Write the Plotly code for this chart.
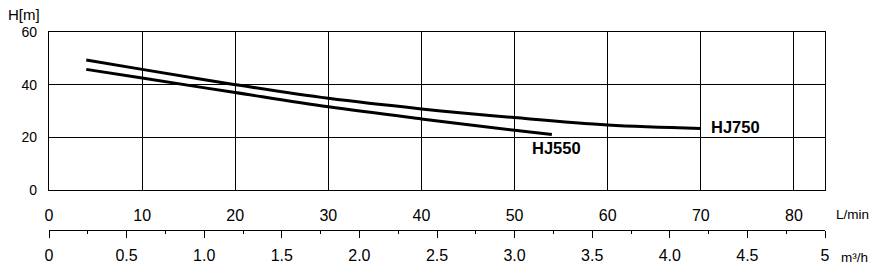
import plotly.graph_objects as go

# Data (flow in L/min, head in m)
hj750_q = [4, 10, 20, 30, 40, 50, 60, 70]
hj750_h = [49.4, 45.8, 40.0, 34.8, 30.8, 27.5, 24.7, 23.4]
hj550_q = [4, 10, 20, 30, 40, 50, 54]
hj550_h = [45.8, 42.5, 37.0, 31.6, 27.0, 22.7, 21.1]

lmin_ticks = [0, 10, 20, 30, 40, 50, 60, 70, 80]
m3h_ticks = [0, 0.5, 1.0, 1.5, 2.0, 2.5, 3.0, 3.5, 4.0, 4.5, 5]
m3h_labels = ["0", "0.5", "1.0", "1.5", "2.0", "2.5", "3.0", "3.5", "4.0", "4.5", "5"]
m3h_minor = [0.25, 0.75, 1.25, 1.75, 2.25, 2.75, 3.25, 3.75, 4.25, 4.75]
h_ticks = [0, 20, 40, 60]

FONT = "Liberation Sans, Arial, sans-serif"
W, H = 879, 273
mt, mb, ml, mr = 32, 10, 49, 54
ph = H - mt - mb
pw = W - ml - mr
plot_bottom_px = 190
axis2_px = 230


def py(px):
    return (H - mb - px) / ph


fig = go.Figure()
fig.add_trace(go.Scatter(x=hj750_q, y=hj750_h, mode="lines",
                         line=dict(color="black", width=3, shape="spline"), showlegend=False))
fig.add_trace(go.Scatter(x=hj550_q, y=hj550_h, mode="lines",
                         line=dict(color="black", width=3, shape="spline"), showlegend=False))
# dummy trace to activate xaxis2
fig.add_trace(go.Scatter(x=[0, 5], y=[None, None], xaxis="x2", yaxis="y", mode="lines",
                         showlegend=False, hoverinfo="skip"))

fig.update_layout(
    width=W, height=H,
    margin=dict(l=ml, r=mr, t=mt, b=mb, autoexpand=False),
    paper_bgcolor="white", plot_bgcolor="white",
    font=dict(family=FONT, color="black", size=16),
    xaxis=dict(
        range=[0, 5 * 1000 / 60], tickvals=lmin_ticks, showgrid=True, gridcolor="black", gridwidth=1.3,
        showline=True, linecolor="black", linewidth=1.3, mirror=True, zeroline=False,
        ticks="outside", ticklen=11, tickcolor="rgba(0,0,0,0)", tickfont=dict(size=16),
        domain=[0, 1], automargin=False,
    ),
    yaxis=dict(
        range=[0, 60], tickvals=h_ticks, showgrid=True, gridcolor="black", gridwidth=1.3,
        showline=True, linecolor="black", linewidth=1.3, mirror=True, zeroline=False,
        ticks="", ticklabelstandoff=8, tickfont=dict(size=14),
        domain=[py(plot_bottom_px), 1], automargin=False,
    ),
    xaxis2=dict(
        overlaying="x", anchor="free", position=py(axis2_px), side="bottom",
        range=[0, 5], tickvals=m3h_ticks, ticktext=m3h_labels,
        showline=True, linecolor="black", linewidth=1.3, showgrid=False, zeroline=False,
        ticks="outside", ticklen=7, tickwidth=1.2, tickcolor="black", ticklabelstandoff=4,
        tickfont=dict(size=16), automargin=False,
        minor=dict(tickvals=m3h_minor, ticks="outside", ticklen=3, tickcolor="black", tickwidth=1.2),
    ),
)

fig.add_annotation(text="H[m]", xref="paper", yref="paper", x=-43 / pw, y=py(15),
                   xanchor="left", yanchor="middle", showarrow=False, font=dict(size=15))
fig.add_annotation(text="L/min", xref="paper", yref="paper", x=1 + 9 / pw, y=py(214),
                   xanchor="left", yanchor="middle", showarrow=False, font=dict(size=13.5))
fig.add_annotation(text="m³/h", xref="paper", yref="paper", x=1 + 14 / pw, y=py(257),
                   xanchor="left", yanchor="middle", showarrow=False, font=dict(size=13.5))
fig.add_annotation(text="<b>HJ550</b>", x=51.6, y=15.8, xanchor="left", yanchor="middle",
                   showarrow=False, font=dict(size=16.5))
fig.add_annotation(text="<b>HJ750</b>", x=70.9, y=23.9, xanchor="left", yanchor="middle",
                   showarrow=False, font=dict(size=16.5))

fig.write_html("out.html")
